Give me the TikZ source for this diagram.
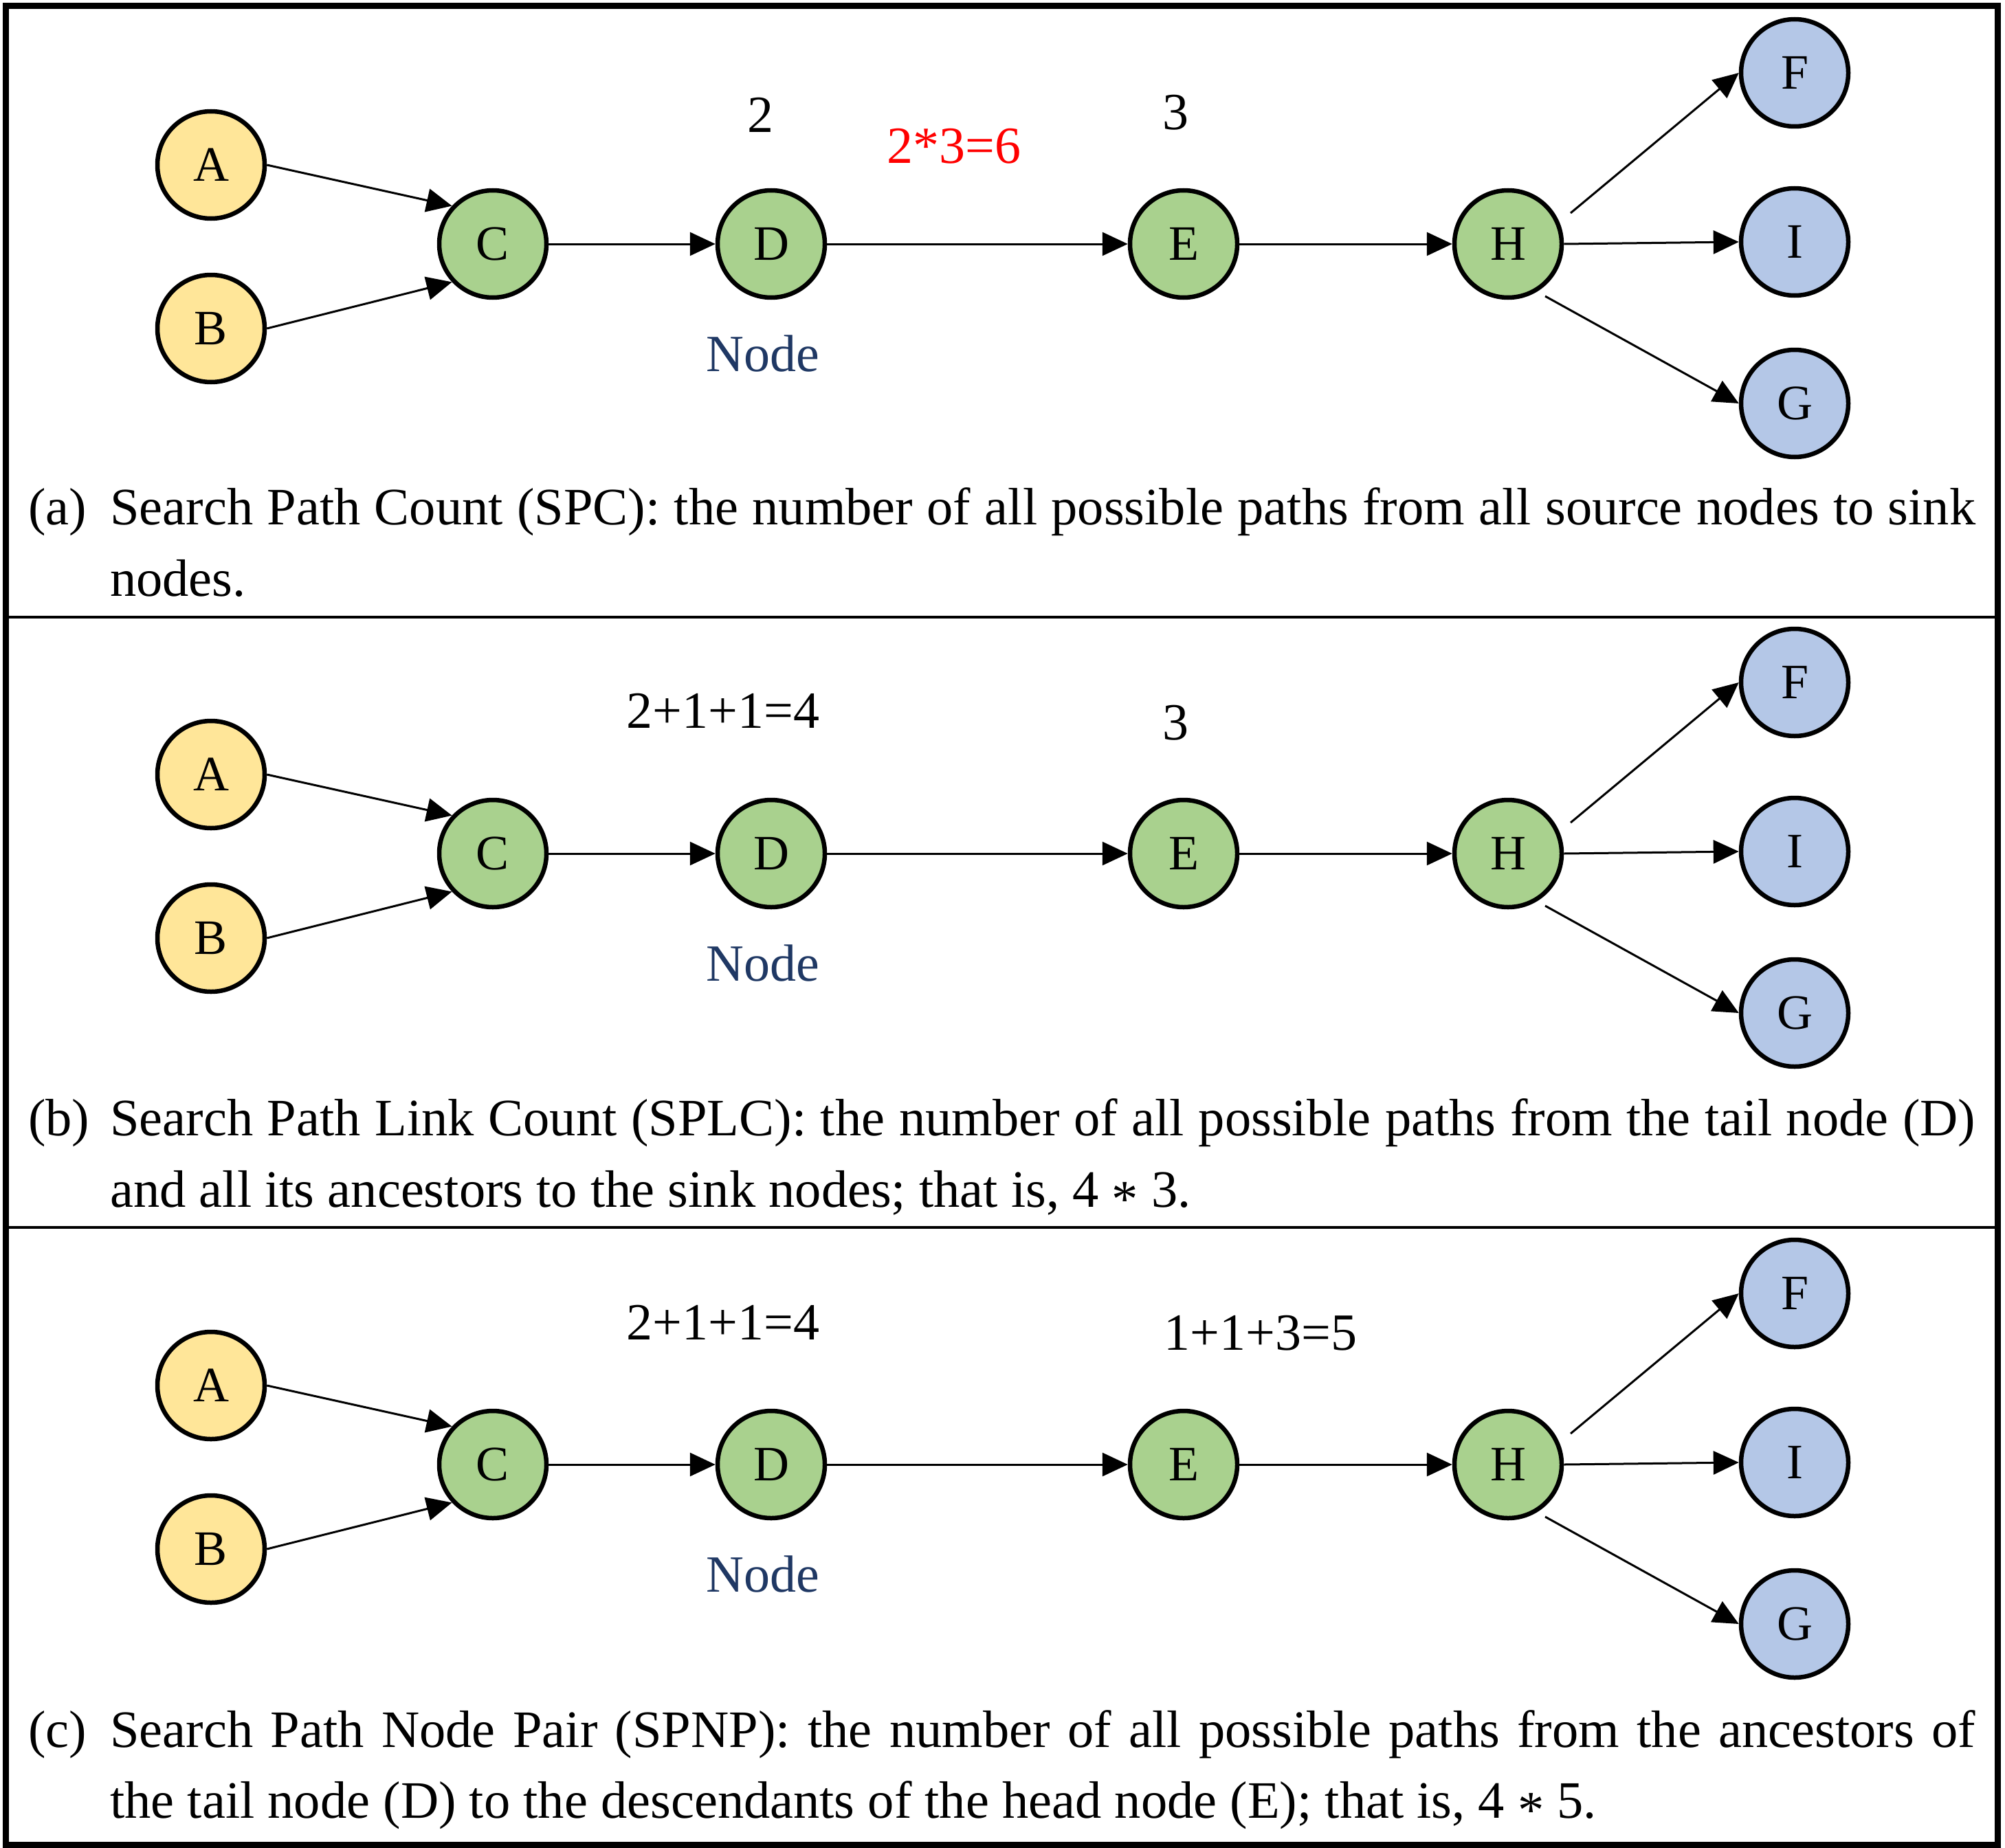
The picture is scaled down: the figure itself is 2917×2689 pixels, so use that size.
\documentclass[tikz,border=0pt]{standalone}
\usepackage{fontspec}
\setmainfont{Liberation Serif}
\usetikzlibrary{arrows.meta}
\definecolor{srcyellow}{HTML}{FFE699}
\definecolor{midgreen}{HTML}{A9D18E}
\definecolor{snkblue}{HTML}{B4C7E7}
\definecolor{navy}{RGB}{31,56,100}
\definecolor{redtxt}{HTML}{FF0000}
\newcommand{\opast}{\raisebox{-0.19em}{*}}
\begin{document}
\begin{tikzpicture}[x=1pt,y=-1pt,
  gnode/.style={circle, draw=black, line width=6.5pt, minimum size=156pt, inner sep=0pt,
                font=\fontsize{72}{86}\selectfont},
  srcnode/.style={gnode, fill=srcyellow},
  midnode/.style={gnode, fill=midgreen},
  snknode/.style={gnode, fill=snkblue},
  conn/.style={line width=3pt, -{Triangle[length=37pt,width=34pt]}},
  numtext/.style={anchor=base, inner sep=0pt, font=\fontsize{76}{90}\selectfont},
  lbltext/.style={anchor=base, inner sep=0pt, text=navy, font=\fontsize{76}{90}\selectfont},
  captext/.style={anchor=base west, inner sep=0pt, font=\fontsize{76.5}{104}\selectfont},
  outerframe/.style={line width=9pt},
  sepline/.style={line width=4pt}
]
\useasboundingbox (0,0) rectangle (2917,2689);

\foreach \p/\off in {a/0,b/887,c/1776}{
  \begin{scope}[shift={(0,\off)}]
    \node[srcnode] (A\p) at (307,240) {A};
    \node[srcnode] (B\p) at (307,478) {B};
    \node[midnode] (C\p) at (717,355) {C};
    \node[midnode] (D\p) at (1122,355) {D};
    \node[midnode] (E\p) at (1722,355) {E};
    \node[midnode] (H\p) at (2194,355) {H};
    \node[snknode] (F\p) at (2611,106) {F};
    \node[snknode] (I\p) at (2611,352) {I};
    \node[snknode] (G\p) at (2611,587) {G};
    \coordinate (Hf\p) at (2285,310);
    \coordinate (Hg\p) at (2248,431);
    \draw[conn] (A\p.east) -- (C\p.137);
    \draw[conn] (B\p.east) -- (C\p.223);
    \draw[conn] (C\p) -- (D\p);
    \draw[conn] (D\p) -- (E\p);
    \draw[conn] (E\p) -- (H\p);
    \draw[conn] (Hf\p) -- (F\p.west);
    \draw[conn] (H\p.east) -- (I\p.west);
    \draw[conn] (Hg\p) -- (G\p.west);
    \node[lbltext] (N\p) at (1110,540) {Node};
  \end{scope}
}

% panel (a) numbers
\node[numtext] (na1) at (1106,193) {2};
\node[numtext, text=redtxt] (na2) at (1388,238) {2*3=6};
\node[numtext] (na3) at (1710,189) {3};
% panel (b) numbers
\node[numtext] (nb1) at (1052,1059) {2+1+1=4};
\node[numtext] (nb2) at (1710,1076) {3};
% panel (c) numbers
\node[numtext] (nc1) at (1052,1949) {2+1+1=4};
\node[numtext] (nc2) at (1834,1964) {1+1+3=5};

% captions
\node[captext] (laba) at (41,763) {(a)};
\node[captext] (capa1) at (160,763) {\makebox[2714pt][s]{Search Path Count (SPC): the number of all possible paths from all source nodes to sink}};
\node[captext] (capa2) at (160,867) {nodes.};

\node[captext] (labb) at (41,1652) {(b)};
\node[captext] (capb1) at (160,1652) {\makebox[2714pt][s]{Search Path Link Count (SPLC): the number of all possible paths from the tail node (D)}};
\node[captext] (capb2) at (160,1756) {and all its ancestors to the sink nodes; that is, 4 \opast{} 3.};

\node[captext] (labc) at (41,2542) {(c)};
\node[captext] (capc1) at (160,2542) {\makebox[2714pt][s]{Search Path Node Pair (SPNP): the number of all possible paths from the ancestors of}};
\node[captext] (capc2) at (160,2645) {the tail node (D) to the descendants of the head node (E); that is, 4 \opast{} 5.};

% frame and separators
\draw[sepline] (8.5,898) -- (2906,898);
\draw[sepline] (8.5,1786) -- (2906,1786);
\draw[outerframe] (8.5,9) rectangle (2906,2684);
\end{tikzpicture}
\end{document}
